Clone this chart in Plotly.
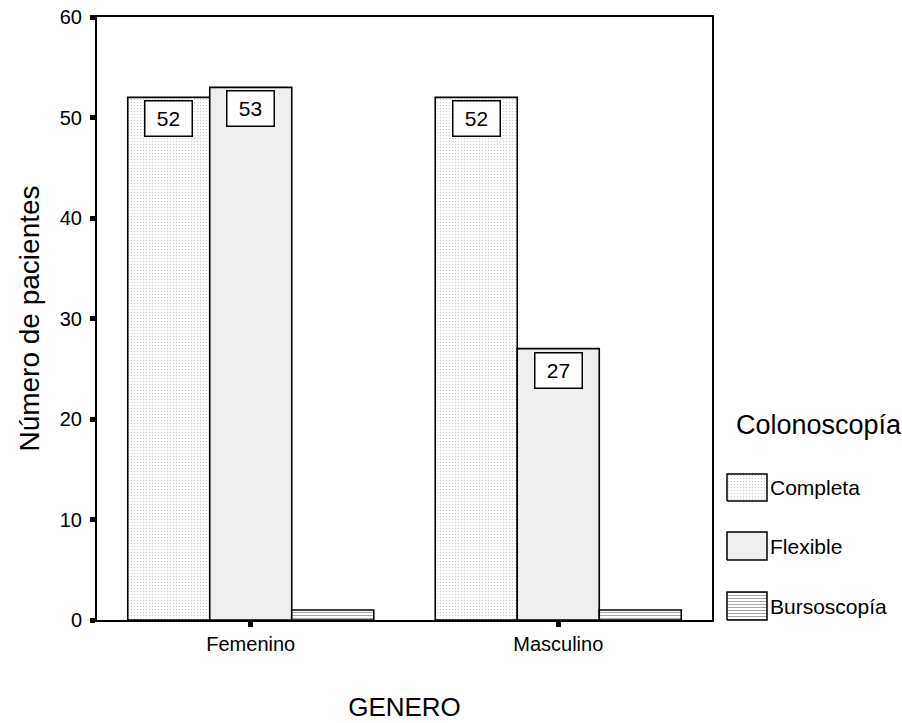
import plotly.graph_objects as go

# Data
categories = ["Femenino", "Masculino"]
series_names = ["Completa", "Flexible", "Bursoscopía"]
completa = [52, 52]
flexible = [53, 27]
bursoscopia = [1, 1]
labelled_series = ["Completa", "Flexible"]
y_ticks = [0, 10, 20, 30, 40, 50, 60]

values = {"Completa": completa, "Flexible": flexible, "Bursoscopía": bursoscopia}

FONT = "Liberation Sans, Arial, sans-serif"
W, H = 902, 723
ML, MR, MT, MB = 97, 5, 17, 90
PW, PH = W - ML - MR, H - MT - MB
PLOT_RIGHT = 712
PLOT_BOTTOM = 620


def px_x(x):
    return (x - ML) / PW


def px_y(y):
    return (H - MB - y) / PH


styles = {
    "Completa": dict(color="white",
                     pattern=dict(shape=".", fgcolor="#c4c4c4", bgcolor="white",
                                  size=3, solidity=0.12, fillmode="replace")),
    "Flexible": dict(color="#efefef"),
    "Bursoscopía": dict(color="white",
                        pattern=dict(shape="-", fgcolor="#a6a6a6", bgcolor="white",
                                     size=3, solidity=0.35, fillmode="replace")),
}

fig = go.Figure()
for name in series_names:
    fig.add_trace(go.Bar(
        x=categories, y=values[name], name=name,
        marker=dict(line=dict(color="black", width=1.6), **styles[name]),
        showlegend=False, hoverinfo="x+y+name",
    ))

bargap = 0.2
bar_w = (1 - bargap) / len(series_names)
annotations = []
for si, name in enumerate(series_names):
    if name not in labelled_series:
        continue
    offset = (si - (len(series_names) - 1) / 2) * bar_w
    for ci, v in enumerate(values[name]):
        annotations.append(dict(
            x=ci + offset, y=v, xref="x", yref="y", text=str(v),
            showarrow=False, yanchor="top", yshift=-3,
            width=44, height=32, borderpad=1,
            bgcolor="white", bordercolor="black", borderwidth=1.5,
            font=dict(family=FONT, size=21, color="black"),
        ))

# Legend drawn beside the plot
annotations.append(dict(
    x=px_x(734), y=px_y(425), xref="paper", yref="paper", text="Colonoscopía",
    showarrow=False, xanchor="left", yanchor="middle",
    font=dict(family=FONT, size=27, color="black"),
))
legend_rows = {"Completa": (474, 501), "Flexible": (532, 560), "Bursoscopía": (592, 620)}
sw_x0, sw_x1 = 727, 767
for name in series_names:
    top, bot = legend_rows[name]
    st = styles[name]
    fig.add_trace(go.Scatter(
        x=[sw_x0, sw_x1, sw_x1, sw_x0, sw_x0],
        y=[H - MB - bot, H - MB - bot, H - MB - top, H - MB - top, H - MB - bot],
        xaxis="x2", yaxis="y2", mode="lines", fill="toself",
        fillcolor=st["color"],
        fillpattern=st.get("pattern", None),
        line=dict(color="black", width=1.5),
        showlegend=False, hoverinfo="skip",
    ))
    annotations.append(dict(
        x=px_x(768), y=px_y((top + bot) / 2), xref="paper", yref="paper", text=name,
        showarrow=False, xanchor="left", yanchor="middle",
        font=dict(family=FONT, size=21, color="black"),
    ))

fig.update_layout(
    width=W, height=H,
    margin=dict(l=ML, r=MR, t=MT, b=MB),
    paper_bgcolor="white", plot_bgcolor="white",
    barmode="group", bargap=bargap, bargroupgap=0,
    font=dict(family=FONT, color="black"),
    xaxis=dict(
        domain=[0, px_x(PLOT_RIGHT)], type="category",
        showline=True, linecolor="black", linewidth=2, mirror=True,
        ticks="outside", ticklen=5, tickwidth=5, tickcolor="black",
        tickfont=dict(size=20),
        title=dict(text="GENERO", font=dict(size=26), standoff=44),
        showgrid=False, zeroline=False,
    ),
    yaxis=dict(
        domain=[px_y(PLOT_BOTTOM), 1], range=[0, 60],
        tickvals=y_ticks,
        showline=True, linecolor="black", linewidth=2, mirror=True,
        ticks="outside", ticklen=5, tickwidth=5, tickcolor="black",
        tickfont=dict(size=20), ticklabelstandoff=4,
        title=dict(text="Número de pacientes", font=dict(size=28), standoff=12),
        showgrid=False, zeroline=False,
    ),
    xaxis2=dict(domain=[px_x(718), px_x(778)], range=[718, 778], visible=False,
                fixedrange=True),
    yaxis2=dict(domain=[0, px_y(462)], range=[0, H - MB - 462], visible=False,
                fixedrange=True, anchor="x2"),
    annotations=annotations,
)
fig.update_traces(selector=dict(type="scatter"), xaxis="x2", yaxis="y2")
fig.layout.xaxis2.anchor = "y2"

fig.write_html("out.html")
